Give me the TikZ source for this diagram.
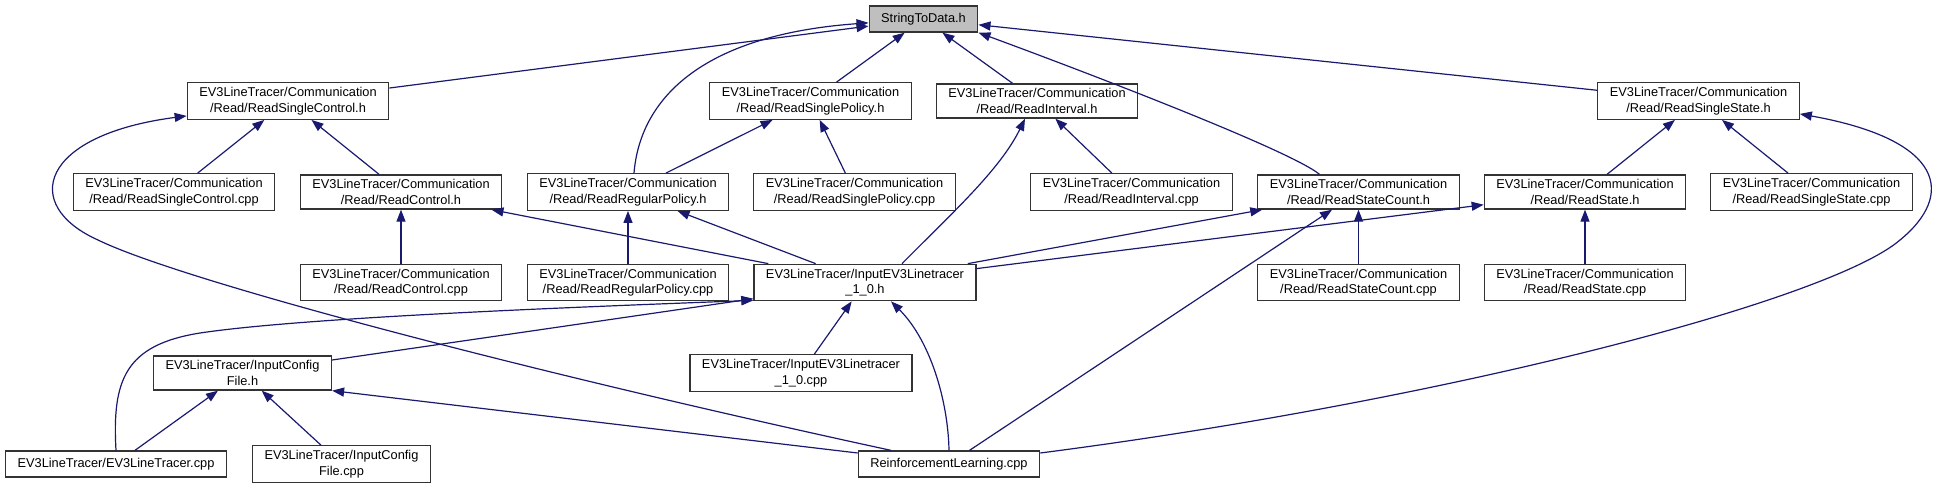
\documentclass[tikz,border=0pt]{standalone}
\usepackage{fontspec}
\setmainfont{Liberation Sans}
\usepackage{tikz}
\usetikzlibrary{arrows.meta,calc}
\definecolor{incedge}{HTML}{191970}
\definecolor{rootgrey}{HTML}{BFBFBF}
\definecolor{boxline}{HTML}{333333}

\begin{document}
\begin{tikzpicture}[x=1pt,y=-1pt,
    file/.style={draw=boxline,line width=1.3pt,fill=white,align=center,
      font=\fontsize{12.8}{15.6}\selectfont,inner xsep=12pt,inner ysep=4.5pt,minimum height=26pt},
    root/.style={file,fill=rootgrey},
    inc/.style={draw=incedge,line width=1.2pt,-{Triangle[length=12pt,width=9pt]}}]
  \useasboundingbox (0,0) rectangle (1940,491);
  \node[root] (std) at (923.5,19) {StringToData.h};
  \node[file] (rsctl_h) at (288,101) {EV3LineTracer/Communication\\/Read/ReadSingleControl.h};
  \node[file] (rspol_h) at (810.5,101) {EV3LineTracer/Communication\\/Read/ReadSinglePolicy.h};
  \node[file] (rint_h) at (1037,101) {EV3LineTracer/Communication\\/Read/ReadInterval.h};
  \node[file] (rsst_h) at (1698.5,101) {EV3LineTracer/Communication\\/Read/ReadSingleState.h};
  \node[file] (rsctl_cpp) at (174,192) {EV3LineTracer/Communication\\/Read/ReadSingleControl.cpp};
  \node[file] (rctl_h) at (401,192) {EV3LineTracer/Communication\\/Read/ReadControl.h};
  \node[file] (rrpol_h) at (628,192) {EV3LineTracer/Communication\\/Read/ReadRegularPolicy.h};
  \node[file] (rspol_cpp) at (854.5,192) {EV3LineTracer/Communication\\/Read/ReadSinglePolicy.cpp};
  \node[file] (rint_cpp) at (1131.5,192) {EV3LineTracer/Communication\\/Read/ReadInterval.cpp};
  \node[file] (rstcnt_h) at (1358.5,192) {EV3LineTracer/Communication\\/Read/ReadStateCount.h};
  \node[file] (rst_h) at (1585,192) {EV3LineTracer/Communication\\/Read/ReadState.h};
  \node[file] (rsst_cpp) at (1811.5,192) {EV3LineTracer/Communication\\/Read/ReadSingleState.cpp};
  \node[file] (rctl_cpp) at (401,282.5) {EV3LineTracer/Communication\\/Read/ReadControl.cpp};
  \node[file] (rrpol_cpp) at (628,282.5) {EV3LineTracer/Communication\\/Read/ReadRegularPolicy.cpp};
  \node[file] (inev3_h) at (865,282.5) {EV3LineTracer/InputEV3Linetracer\\\_1\_0.h};
  \node[file] (rstcnt_cpp) at (1358.5,282.5) {EV3LineTracer/Communication\\/Read/ReadStateCount.cpp};
  \node[file] (rst_cpp) at (1585,282.5) {EV3LineTracer/Communication\\/Read/ReadState.cpp};
  \node[file] (icfg_h) at (242.5,373) {EV3LineTracer/InputConfig\\File.h};
  \node[file] (inev3_cpp) at (801,373) {EV3LineTracer/InputEV3Linetracer\\\_1\_0.cpp};
  \node[file] (ev3lt_cpp) at (116,464) {EV3LineTracer/EV3LineTracer.cpp};
  \node[file] (icfg_cpp) at (341.5,464) {EV3LineTracer/InputConfig\\File.cpp};
  \node[file] (rl_cpp) at (949,464) {ReinforcementLearning.cpp};

  \draw[inc] (rsctl_h) -- (std);
  \draw[inc] ($(rrpol_h.north)+(6,0)$) .. controls (640,100) and (700,35) .. (std.184);
  \draw[inc] (rspol_h) -- (std);
  \draw[inc] (rint_h) -- (std);
  \draw[inc] ($(rstcnt_h.north)+(-39,0)$) .. controls (1290,150) and (1080,70) .. (std.south east);
  \draw[inc] (rsst_h) -- (std);
  \draw[inc] (rsctl_cpp) -- (rsctl_h);
  \draw[inc] (rctl_h) -- (rsctl_h);
  \draw[inc] ($(rl_cpp.north)+(-58,0)$) .. controls (520,370) and (180,280) .. (98,240)
    .. controls (20,205) and (40,135) .. ($(rsctl_h.south west)+(0,-4)$);
  \draw[inc] (rrpol_h) -- (rspol_h);
  \draw[inc] (rspol_cpp) -- (rspol_h);
  \draw[inc] ($(inev3_h.north)+(37,0)$) .. controls (950,215) and (1000,170) .. ($(rint_h.south)+(-12,0)$);
  \draw[inc] (rint_cpp) -- (rint_h);
  \draw[inc] (rst_h) -- (rsst_h);
  \draw[inc] (rsst_cpp) -- (rsst_h);
  \draw[inc] ($(rl_cpp.east)+(0,-11)$) .. controls (1450,400) and (1830,300) .. (1900,240)
    .. controls (1955,195) and (1945,140) .. ($(rsst_h.south east)+(0,-6)$);
  \draw[inc] (rctl_cpp) -- (rctl_h);
  \draw[inc] (inev3_h) -- (rctl_h);
  \draw[inc] (rrpol_cpp) -- (rrpol_h);
  \draw[inc] (inev3_h) -- (rrpol_h);
  \draw[inc] (inev3_h) -- (rstcnt_h);
  \draw[inc] (rl_cpp) -- (rstcnt_h);
  \draw[inc] (rstcnt_cpp) -- (rstcnt_h);
  \draw[inc] (inev3_h) -- (rst_h);
  \draw[inc] (rst_cpp) -- (rst_h);
  \draw[inc] (inev3_cpp) -- (inev3_h);
  \draw[inc] (rl_cpp.north) .. controls (948,400) and (930,340) .. ($(inev3_h.south)+(26,0)$);
  \draw[inc] (ev3lt_cpp.north) .. controls (112,380) and (125,345) .. (200,333)
    .. controls (300,318) and (550,308) .. ($(inev3_h.south west)+(0,-1)$);
  \draw[inc] (icfg_h) -- (inev3_h);
  \draw[inc] (ev3lt_cpp) -- (icfg_h);
  \draw[inc] (icfg_cpp) -- (icfg_h);
  \draw[inc] ($(rl_cpp.west)+(0,-11)$) -- (icfg_h.south east);
\end{tikzpicture}
\end{document}
